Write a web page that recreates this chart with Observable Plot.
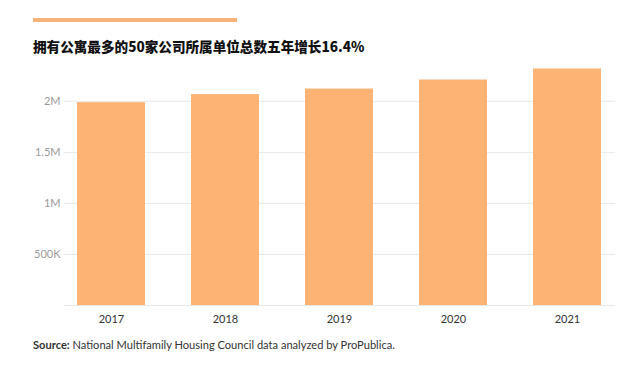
<!DOCTYPE html>
<html>
<head>
<meta charset="utf-8">
<script src="https://cdn.jsdelivr.net/npm/d3@7"></script>
<script src="https://cdn.jsdelivr.net/npm/@observablehq/plot@0.6"></script>
<style>
  html, body { margin: 0; padding: 0; background: #fff; }
  #wrap { position: relative; width: 640px; height: 366px; overflow: hidden; font-family: "Lato", "Noto Sans", sans-serif; }
  #rule { position: absolute; left: 33px; top: 18px; width: 204px; height: 4px; background: #f5b37a; }
  #title { position: absolute; left: 33px; top: 35px; font-family: "Noto Sans CJK SC", sans-serif; font-weight: 900; font-size: 13.6px; line-height: 22px; color: #111; white-space: nowrap; }
  #chart { position: absolute; left: 0; top: 56px; }
  #caption { position: absolute; left: 33px; top: 337px; font-size: 11.1px; line-height: 16px; color: #333; white-space: nowrap; }
</style>
</head>
<body>
<div id="wrap">
  <div id="rule"></div>
  <div id="title">拥有公寓最多的50家公司所属单位总数五年增长16.4%</div>
  <div id="chart"></div>
  <div id="caption"><b>Source:</b> National Multifamily Housing Council data analyzed by ProPublica.</div>
</div>
<script>
const years = ["2017", "2018", "2019", "2020", "2021"];
const units = [1987000, 2066000, 2120000, 2209000, 2317000];
const yTicks = [500000, 1000000, 1500000, 2000000];
const gridTicks = [0, 500000, 1000000, 1500000, 2000000];

const data = years.map((y, i) => ({year: y, value: units[i]}));
const fmt = d => d >= 1e6 ? (d / 1e6) + "M" : (d / 1e3) + "K";

const chart = Plot.plot({
  width: 640,
  height: 278,
  marginLeft: 64,
  marginRight: 25,
  marginTop: 4,
  marginBottom: 29,
  style: {fontFamily: "Lato, 'Noto Sans', sans-serif", fontSize: "11px", background: "transparent"},
  x: {domain: years, paddingInner: 0.4, paddingOuter: 0.096, label: null},
  y: {domain: [0, 2400000], label: null},
  marks: [
    Plot.gridY(gridTicks, {stroke: "#e8e8e8", strokeOpacity: 1}),
    Plot.barY(data, {x: "year", y: "value", fill: "#fdb374"}),
    Plot.axisY(yTicks, {tickSize: 0, tickPadding: 4, tickFormat: fmt, fill: "#9a9a9a", label: null}),
    Plot.axisX({tickSize: 0, tickPadding: 10, fill: "#333", label: null})
  ]
});
document.getElementById("chart").appendChild(chart);
</script>
</body>
</html>
